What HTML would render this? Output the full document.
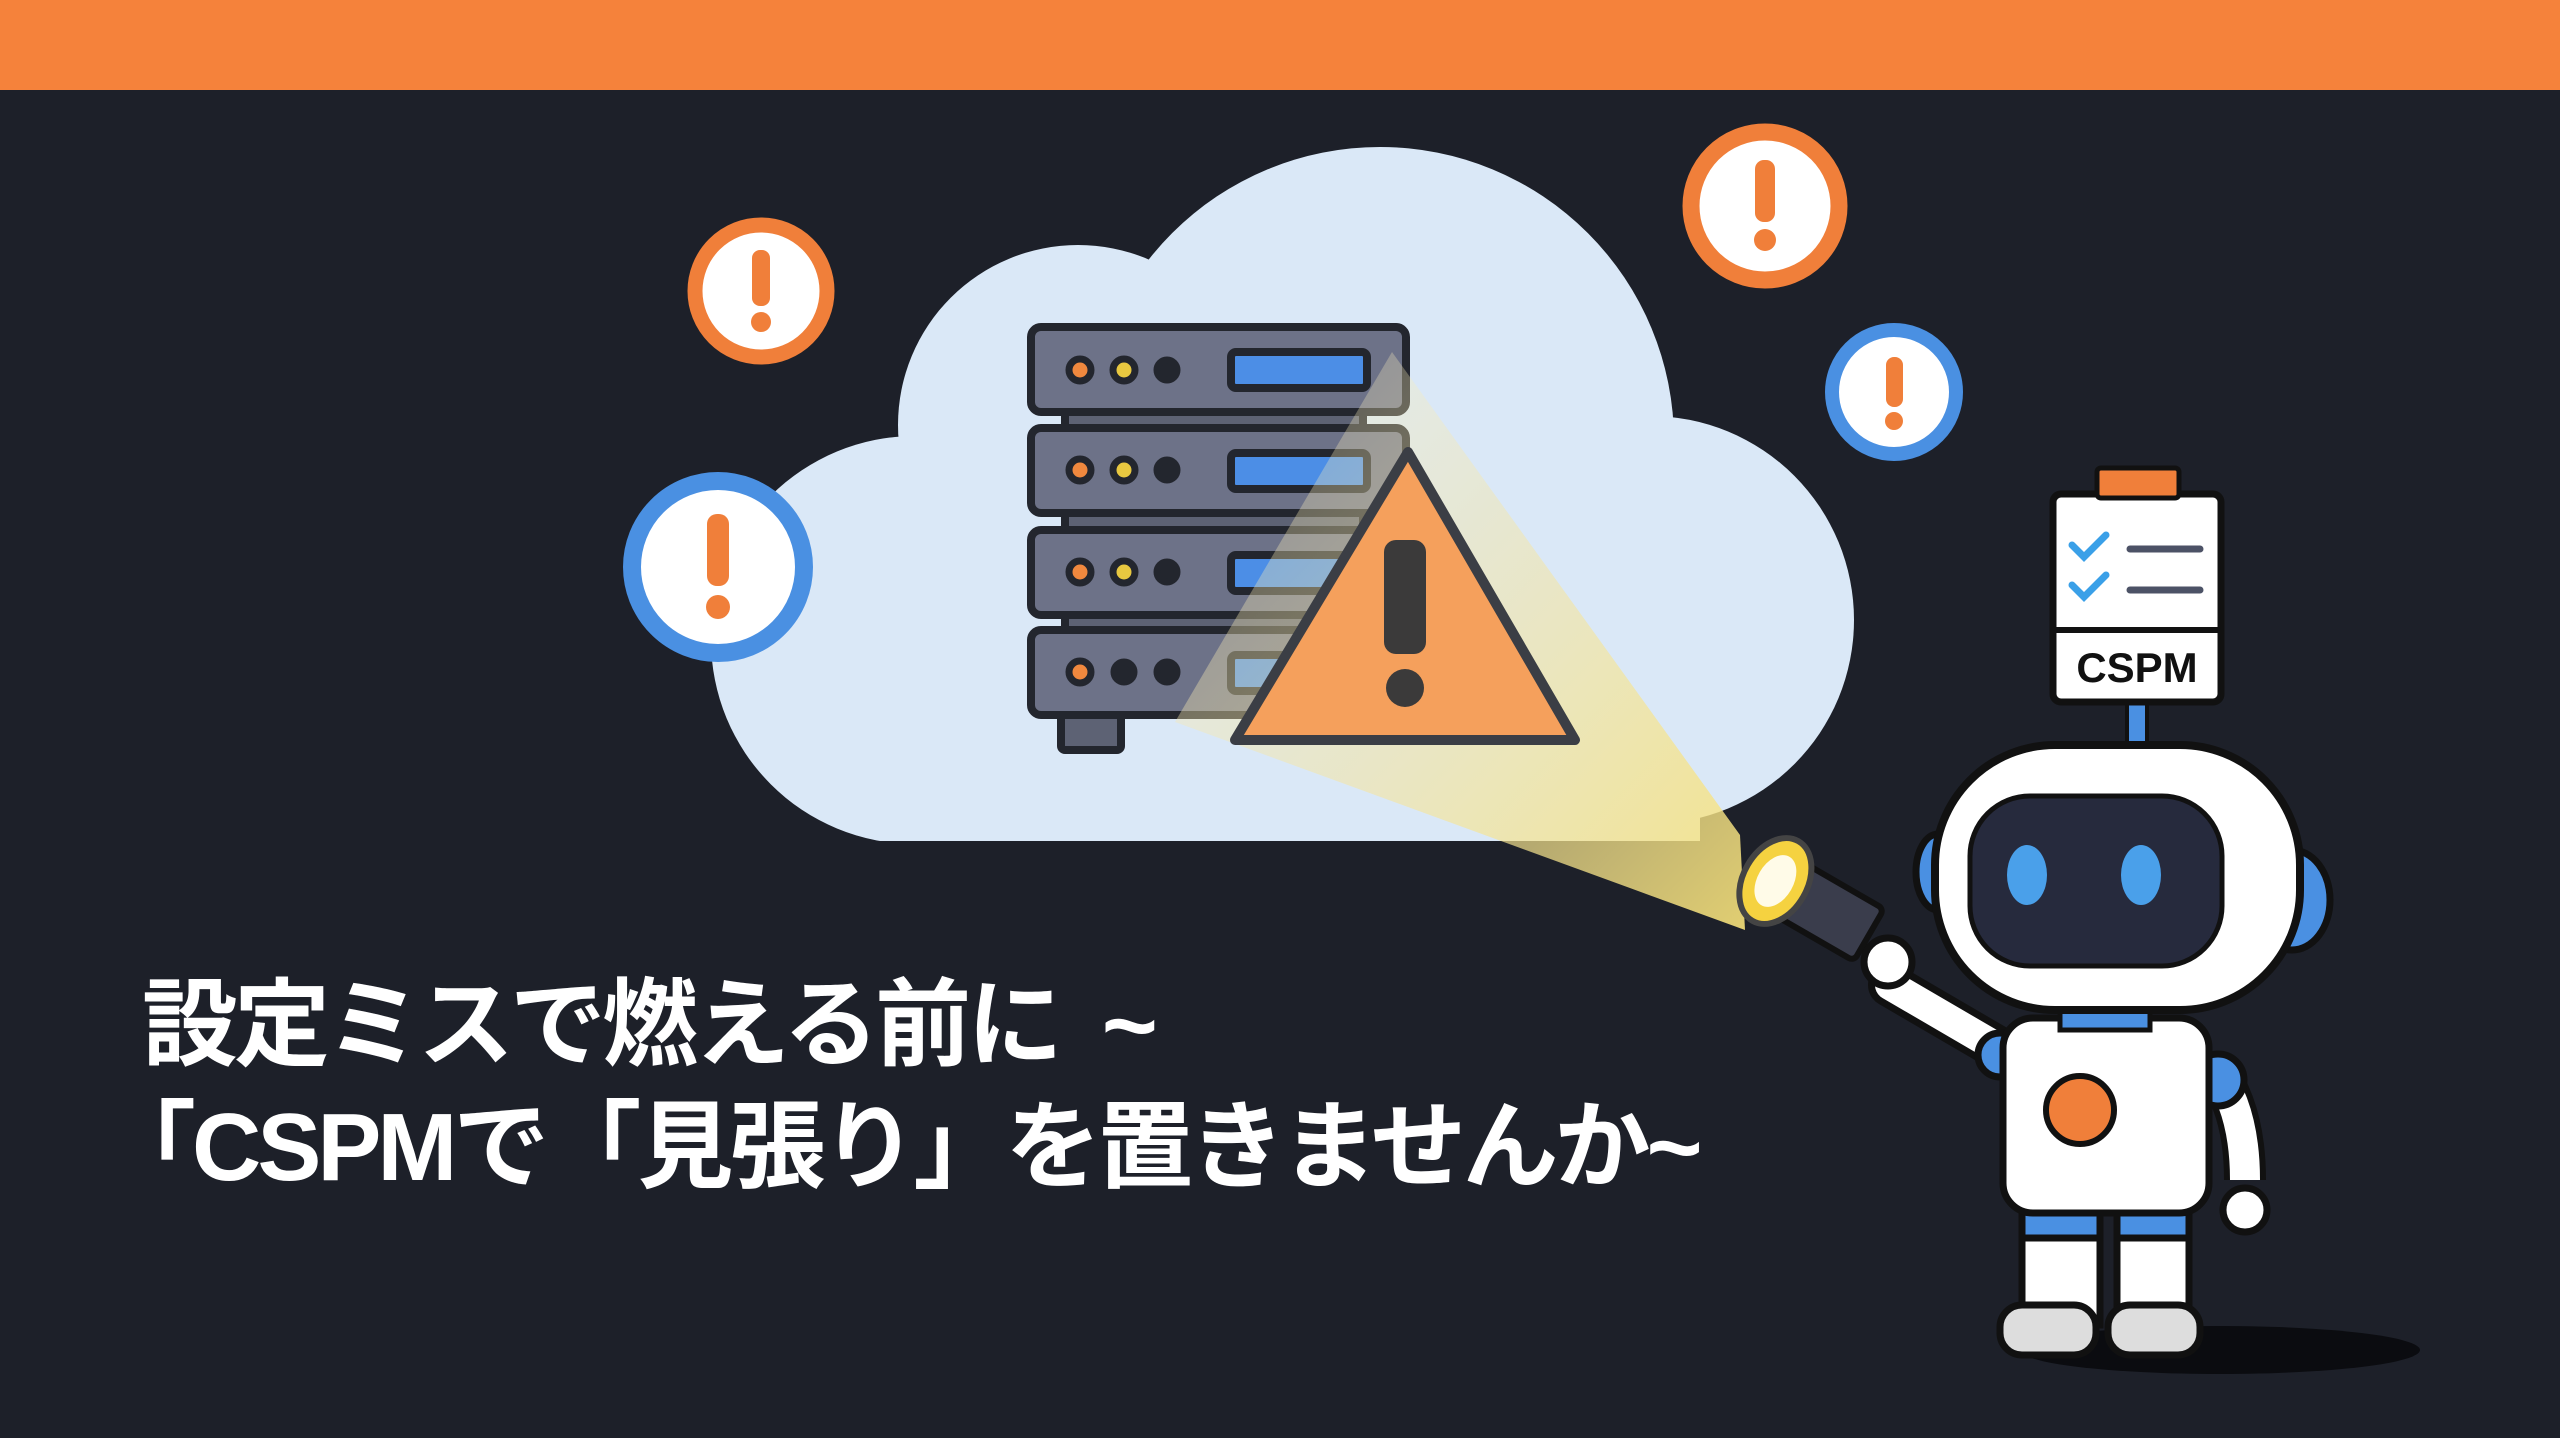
<!DOCTYPE html>
<html><head><meta charset="utf-8"><style>
html,body{margin:0;padding:0;}
body{width:2560px;height:1438px;background:#1d2029;position:relative;overflow:hidden;}
.bar{position:absolute;left:0;top:0;width:2560px;height:90px;background:#f5823b;}
svg{position:absolute;left:0;top:0;}
.t{position:absolute;left:142px;color:#fff;font-family:"Liberation Sans","Noto Sans CJK JP",sans-serif;font-weight:bold;font-size:96px;letter-spacing:-4px;white-space:nowrap;line-height:1;}
</style></head><body>
<div class="bar"></div>
<svg width="2560" height="1438" viewBox="0 0 2560 1438">
<defs>
<clipPath id="cc"><rect x="0" y="0" width="2560" height="841"/></clipPath>
<linearGradient id="beam" x1="1" y1="1" x2="0" y2="0">
<stop offset="0" stop-color="#f7e27a" stop-opacity="0.9"/>
<stop offset="0.6" stop-color="#f5e6a8" stop-opacity="0.45"/>
<stop offset="1" stop-color="#fff6d0" stop-opacity="0.15"/>
</linearGradient>
</defs>
<g clip-path="url(#cc)" fill="#dae8f7">
<circle cx="1380" cy="441" r="294"/>
<circle cx="1078" cy="425" r="180"/>
<circle cx="915" cy="640" r="204"/>
<circle cx="1650" cy="620" r="204"/>
<rect x="900" y="480" width="800" height="380"/>
</g>
<g stroke="#23262e" stroke-width="8">
<rect x="1065" y="405" width="298" height="30" fill="#5d6274"/>
<rect x="1065" y="508" width="298" height="30" fill="#5d6274"/>
<rect x="1065" y="608" width="298" height="30" fill="#5d6274"/>
<rect x="1061" y="712" width="60" height="38" rx="4" fill="#5d6274"/>
<rect x="1031" y="327" width="375" height="85" rx="10" fill="#6d7288"/>
<rect x="1031" y="428" width="375" height="85" rx="10" fill="#6d7288"/>
<rect x="1031" y="530" width="375" height="85" rx="10" fill="#6d7288"/>
<rect x="1031" y="630" width="375" height="85" rx="10" fill="#6d7288"/>
</g>
<g stroke="#23262e" stroke-width="8" fill="#4c8ee6">
<rect x="1231" y="352" width="136" height="36" rx="5"/>
<rect x="1231" y="453" width="136" height="36" rx="5"/>
<rect x="1231" y="555" width="136" height="36" rx="5"/>
<rect x="1231" y="655" width="136" height="36" rx="5"/>
</g>
<g stroke="#23262e" stroke-width="7">
<circle cx="1080" cy="370" r="11" fill="#f0883e"/><circle cx="1124" cy="370" r="11" fill="#e8c840"/><circle cx="1167" cy="370" r="10" fill="#23262e"/>
<circle cx="1080" cy="470" r="11" fill="#f0883e"/><circle cx="1124" cy="470" r="11" fill="#e8c840"/><circle cx="1167" cy="470" r="10" fill="#23262e"/>
<circle cx="1080" cy="572" r="11" fill="#f0883e"/><circle cx="1124" cy="572" r="11" fill="#e8c840"/><circle cx="1167" cy="572" r="10" fill="#23262e"/>
<circle cx="1080" cy="672" r="11" fill="#f0883e"/><circle cx="1124" cy="672" r="10" fill="#23262e"/><circle cx="1167" cy="672" r="10" fill="#23262e"/>
</g>
<polygon points="1740,835 1392,352 1175,722 1745,930" fill="url(#beam)"/>
<path d="M1408,452 L1575,740 L1235,740 Z" fill="#f5a05c" stroke="#3b3e45" stroke-width="10" stroke-linejoin="round"/>
<rect x="1384" y="540" width="42" height="114" rx="12" fill="#3b3a3a"/>
<circle cx="1405" cy="688" r="19" fill="#3b3a3a"/>
<g>
<circle cx="761" cy="291" r="66" fill="#fff" stroke="#f07f3a" stroke-width="15"/>
<rect x="752" y="250" width="18" height="56" rx="8" fill="#f07f3a"/><circle cx="761" cy="322" r="10" fill="#f07f3a"/>
<circle cx="718" cy="567" r="86" fill="#fff" stroke="#4a90e2" stroke-width="18"/>
<rect x="707" y="514" width="22" height="72" rx="10" fill="#f07f3a"/><circle cx="718" cy="607" r="12" fill="#f07f3a"/>
<circle cx="1765" cy="206" r="74" fill="#fff" stroke="#f07f3a" stroke-width="17"/>
<rect x="1755" y="160" width="20" height="62" rx="9" fill="#f07f3a"/><circle cx="1765" cy="240" r="11" fill="#f07f3a"/>
<circle cx="1894" cy="392" r="62" fill="#fff" stroke="#4a90e2" stroke-width="14"/>
<rect x="1886" y="357" width="17" height="50" rx="8" fill="#f07f3a"/><circle cx="1894" cy="421" r="9" fill="#f07f3a"/>
</g>
<ellipse cx="2220" cy="1350" rx="200" ry="24" fill="#0b0c10"/>
<rect x="2127" y="700" width="20" height="46" fill="#4a90e2" stroke="#111" stroke-width="4"/>
<rect x="2053" y="494" width="168" height="208" rx="8" fill="#fff" stroke="#111" stroke-width="7"/>
<line x1="2053" y1="630" x2="2221" y2="630" stroke="#111" stroke-width="6"/>
<rect x="2097" y="468" width="82" height="30" rx="4" fill="#f07f3a" stroke="#111" stroke-width="5"/>
<path d="M2072,545 l12,12 l22,-22 M2072,585 l12,12 l22,-22" stroke="#3aa0e8" stroke-width="7" fill="none" stroke-linecap="round"/>
<path d="M2130,549 h70 M2130,590 h70" stroke="#4c5266" stroke-width="7" stroke-linecap="round"/>
<text x="2137" y="682" text-anchor="middle" font-family="Liberation Sans,sans-serif" font-weight="bold" font-size="42" fill="#111">CSPM</text>
<g stroke="#111" stroke-width="7">
<rect x="2022" y="1205" width="78" height="120" fill="#fff"/>
<rect x="2117" y="1205" width="72" height="120" fill="#fff"/>
<rect x="2022" y="1210" width="78" height="28" fill="#4a90e2"/>
<rect x="2117" y="1210" width="72" height="28" fill="#4a90e2"/>
<rect x="2000" y="1305" width="96" height="50" rx="22" fill="#ddd"/>
<rect x="2108" y="1305" width="92" height="50" rx="22" fill="#ddd"/>
</g>
<g stroke="#111" stroke-width="7">
<path d="M2215,1070 q30,40 30,110" fill="none" stroke-width="42" stroke="#111"/>
<path d="M2215,1070 q30,40 30,110" fill="none" stroke-width="30" stroke="#fff"/>
<circle cx="2245" cy="1210" r="22" fill="#fff"/>
<circle cx="2218" cy="1080" r="26" fill="#4a90e2"/>
<path d="M2010,1055 L1890,985" stroke="#111" stroke-width="44" stroke-linecap="round"/>
<path d="M2010,1055 L1890,985" stroke="#fff" stroke-width="30" stroke-linecap="round"/>
<circle cx="2000" cy="1055" r="22" fill="#4a90e2"/>
</g>
<rect x="2003" y="1018" width="206" height="195" rx="30" fill="#fff" stroke="#111" stroke-width="7"/>
<rect x="2060" y="1010" width="90" height="20" fill="#4a90e2" stroke="#111" stroke-width="5"/>
<circle cx="2080" cy="1110" r="34" fill="#f07f3a" stroke="#111" stroke-width="6"/>
<g transform="translate(1765,875) rotate(30)">
<rect x="10" y="-30" width="110" height="60" rx="6" fill="#3a3d4c" stroke="#111" stroke-width="6"/>
<ellipse cx="12" cy="0" rx="32" ry="46" fill="#f5d240" stroke="#444" stroke-width="6"/>
<ellipse cx="12" cy="0" rx="18" ry="28" fill="#fffbe8"/>
</g>
<circle cx="1888" cy="962" r="24" fill="#fff" stroke="#111" stroke-width="7"/>
<ellipse cx="1938" cy="872" rx="22" ry="38" fill="#4a90e2" stroke="#111" stroke-width="7"/>
<ellipse cx="2292" cy="900" rx="38" ry="50" fill="#4a90e2" stroke="#111" stroke-width="7"/>
<rect x="1935" y="745" width="365" height="265" rx="120" fill="#fff" stroke="#111" stroke-width="8"/>
<rect x="1970" y="796" width="252" height="170" rx="60" fill="#262a3d" stroke="#111" stroke-width="5"/>
<ellipse cx="2027" cy="875" rx="20" ry="30" fill="#4aa0ea"/>
<ellipse cx="2141" cy="875" rx="20" ry="30" fill="#4aa0ea"/>
</svg>
<div class="t" style="top:978px;">設定ミスで燃える前に <span style="margin-left:20px">~</span></div>
<div class="t" style="top:1100px;left:100px;letter-spacing:-4px;">「CSPMで「見張り」を置きませんか~</div>
</body></html>
